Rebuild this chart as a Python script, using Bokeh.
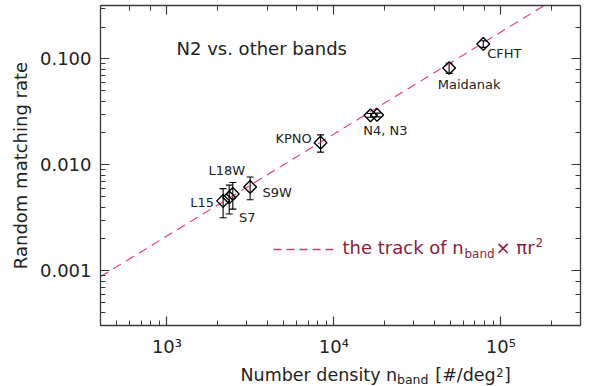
import math
from bokeh.plotting import figure
from bokeh.layouts import column
from bokeh.models import (ColumnDataSource, Whisker, TeeHead, LogAxis, LogTicker,
                          CustomJSTickFormatter, PrintfTickFormatter, Label, Arrow)
from bokeh.core.properties import value
from bokeh.embed import file_html
from bokeh.resources import INLINE

# ---- data ----
bands = ["L15", "S7", "L18W", "S9W", "KPNO", "N4", "N3", "Maidanak", "CFHT"]
density = [2170, 2360, 2480, 3150, 8320, 16560, 18150, 49000, 78500]
rate = [0.00457, 0.00493, 0.00532, 0.00619, 0.0162, 0.0294, 0.0296, 0.0822, 0.1387]
rate_err = [0.0014, 0.0015, 0.0015, 0.0015, 0.0030, 0.0012, 0.0012, 0.0090, 0.0100]
point_labels = ["L15", "S7", "L18W", "S9W", "KPNO", "N4, N3", "", "Maidanak", "CFHT"]

track_density = [400, 182000]
track_rate = [0.00088, 0.32]

x_range_vals = (400, 3.0e5)
y_range_vals = (3.04e-4, 0.32)

# label offsets (pixels, layout only)
label_dx = [-21, 18, -6, 27, -27, 15, 0, 20, 21]
label_dy = [2, 20, -23, 6, -4, 15, 0, 17, 10]

FONT = "DejaVu Sans"
TXT = "#222222"
AX = "#3a3a3a"
PINK = "#e8307a"
MAROON = "#8a1c3c"

W_LEFT, W_FRAME, W_RIGHT = 100, 480, 12
H_TOP, H_FRAME, H_BOTTOM = 5, 320, 40

p = figure(x_axis_type="log", y_axis_type="log",
           x_range=x_range_vals, y_range=y_range_vals,
           frame_width=W_FRAME, frame_height=H_FRAME,
           min_border_left=W_LEFT, min_border_right=W_RIGHT, min_border_top=H_TOP,
           min_border_bottom=H_BOTTOM,
           output_backend="svg", toolbar_location=None)
p.outline_line_color = None
p.xgrid.visible = False
p.ygrid.visible = False
p.background_fill_color = "white"
p.border_fill_color = "white"

# theoretical track
p.line(track_density, track_rate, line_color=PINK, line_width=1.1, line_dash="9 6")

# error bars
src = ColumnDataSource(dict(
    x=density, y=rate,
    upper=[r + e for r, e in zip(rate, rate_err)],
    lower=[r - e for r, e in zip(rate, rate_err)],
    lab=point_labels, dx=label_dx, dy=label_dy,
))
wh = Whisker(source=src, base="x", upper="upper", lower="lower", dimension="height",
             line_color="black", line_width=1.1,
             upper_head=TeeHead(size=7, line_color="black", line_width=1.1),
             lower_head=TeeHead(size=7, line_color="black", line_width=1.1))
p.add_layout(wh)

# diamonds
p.scatter("x", "y", source=src, marker="square", angle=math.pi / 4, size=9,
          fill_color=None, line_color="black", line_width=1.4)

# point labels
p.text("x", "y", text="lab", source=src, x_offset="dx", y_offset="dy",
       text_font=value(FONT), text_font_size="13px", text_color=TXT,
       text_align="center", text_baseline="middle")

# axes styling
def style_axis(ax):
    ax.axis_line_color = AX
    ax.axis_line_width = 1.3
    ax.major_tick_line_color = AX
    ax.minor_tick_line_color = AX
    ax.major_tick_line_width = 1.2
    ax.minor_tick_line_width = 1.0
    ax.major_tick_in = 9
    ax.major_tick_out = 0
    ax.minor_tick_in = 5
    ax.minor_tick_out = 0
    ax.major_label_text_font = FONT
    ax.major_label_text_color = TXT
    ax.major_label_text_font_size = "18px"

xa = p.xaxis[0]
ya = p.yaxis[0]
style_axis(xa)
style_axis(ya)
xa.formatter = CustomJSTickFormatter(code="""
const sup = {"0":"\u2070","1":"\u00b9","2":"\u00b2","3":"\u00b3","4":"\u2074","5":"\u2075",
             "6":"\u2076","7":"\u2077","8":"\u2078","9":"\u2079","-":"\u207b"};
const e = Math.round(Math.log10(tick));
return "10" + String(e).split("").map(c => sup[c]).join("");
""")
xa.major_label_standoff = 10
ya.formatter = PrintfTickFormatter(format="%.3f")
ya.major_label_standoff = 9
ya.axis_label = "Random matching rate"
ya.axis_label_text_font = FONT
ya.axis_label_text_font_style = "normal"
ya.axis_label_text_font_size = "18px"
ya.axis_label_text_color = TXT
ya.axis_label_standoff = 6

empty = CustomJSTickFormatter(code="return '';")
top = LogAxis(ticker=LogTicker(), formatter=empty)
right = LogAxis(ticker=LogTicker(), formatter=empty)
for ax in (top, right):
    style_axis(ax)
    ax.major_label_standoff = 0
p.add_layout(top, "above")
p.add_layout(right, "right")

# --- annotations ---
def lab(fig, text, x, y, size, color=TXT, baseline="middle", align="left", units="screen"):
    fig.add_layout(Label(x=x, y=y, x_units=units, y_units=units, text=text,
                         text_font=FONT, text_font_size=size, text_color=color,
                         text_baseline=baseline, text_align=align))

lab(p, "N2 vs. other bands", 76, 277, "18px")

# legend (screen units relative to the frame)
p.add_layout(Arrow(start=None, end=None, x_start=173, y_start=76, x_end=235, y_end=76,
                   start_units="screen", end_units="screen",
                   line_color=PINK, line_width=1.6, line_dash="8 5"))
lab(p, "the track of n", 242, 77.7, "18px", color=MAROON)
lab(p, "band", 364, 71.6, "12px", color=MAROON)
lab(p, "\u00d7 \u03c0r", 395, 77.7, "18px", color=MAROON)
lab(p, "2", 435, 83.1, "12px", color=MAROON)

# --- x-axis title strip; its frame is aligned with the main frame ---
TH = 21
pt = figure(width=W_LEFT + W_FRAME + W_RIGHT, height=TH,
            x_range=(W_LEFT, W_LEFT + W_FRAME), y_range=(0, TH),
            min_border=0, min_border_left=W_LEFT, min_border_right=W_RIGHT,
            x_axis_location=None, y_axis_location=None,
            output_backend="svg", toolbar_location=None)
pt.outline_line_color = None
pt.xgrid.visible = False
pt.ygrid.visible = False
pt.border_fill_color = "white"
lab(pt, "Number density n", 240, 11.5, "17.5px", units="data")
lab(pt, "band", 396.5, 7, "12.5px", units="data")
lab(pt, "[#/deg", 434.8, 11.5, "17.5px", units="data")
lab(pt, "2", 495.7, 14.5, "11.5px", units="data")
lab(pt, "]", 503.5, 11.5, "17.5px", units="data")

layout = column(p, pt, spacing=0)
open("out.html", "w").write(file_html(layout, INLINE))
